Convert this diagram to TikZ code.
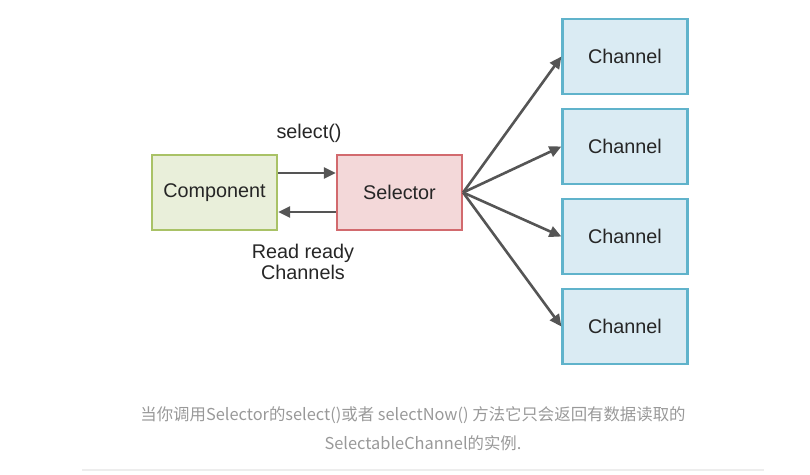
\documentclass[tikz,border=0pt]{standalone}
\usepackage{fontspec}
\setmainfont{Liberation Sans}
\newfontfamily\cjkfont{Noto Sans CJK SC}
\usetikzlibrary{arrows.meta}
\definecolor{compfill}{HTML}{E9EFDA}
\definecolor{compline}{HTML}{A9C266}
\definecolor{selfill}{HTML}{F3D8D9}
\definecolor{selline}{HTML}{D26A6E}
\definecolor{chanfill}{HTML}{DAEBF3}
\definecolor{chanline}{HTML}{60B3CB}
\definecolor{arrowgray}{HTML}{555555}
\definecolor{captiongray}{HTML}{999999}
\tikzset{
  box/.style={draw, line width=2.2pt, minimum width=125pt, minimum height=75pt,
              font=\fontsize{19.8}{22}\selectfont, text=black!85},
  flow/.style={arrowgray, line width=2.6pt, -{Triangle[length=12pt,width=11pt]}},
  lbl/.style={font=\fontsize{19.8}{22}\selectfont, text=black!85, align=center}
}
\begin{document}
\begin{tikzpicture}[x=1pt, y=-1pt]
        \useasboundingbox (0,0) rectangle (810,474);
        % the component and the selector
        \node[box, fill=compfill, draw=compline] (comp) at (214.5,192.5) {Component};
        \node[box, fill=selfill, draw=selline] (sel) at (399.5,192.5) {Selector};
        \draw [flow] (comp.east |- 0,173) -- (sel.west |- 0,173);
        \draw [flow] (sel.west |- 0,212) -- (comp.east |- 0,212);
        \node[lbl] (call) at (309,133) {select()};
        \node[lbl] (ready) at (303,262) {Read ready\\[-1pt]Channels};
        % the channels
        \foreach \i/\y in {1/56.5, 2/146.5, 3/236.5, 4/326.5} {
          \node[box, fill=chanfill, draw=chanline] (chan\i) at (625,\y) {Channel};
          \draw [flow] (sel.east) -- (chan\i.west);
        }
        % caption
        \node[font=\cjkfont\fontsize{16.4}{18}\selectfont, text=captiongray] (cap1) at (413,415)
          {当你调用Selector的select()或者 selectNow() 方法它只会返回有数据读取的};
        \node[font=\cjkfont\fontsize{16.4}{18}\selectfont, text=captiongray] (cap2) at (423,443)
          {SelectableChannel的实例.};
        \draw [black!7, line width=1.5pt] (82,470) -- (764,470);
\end{tikzpicture}
\end{document}
